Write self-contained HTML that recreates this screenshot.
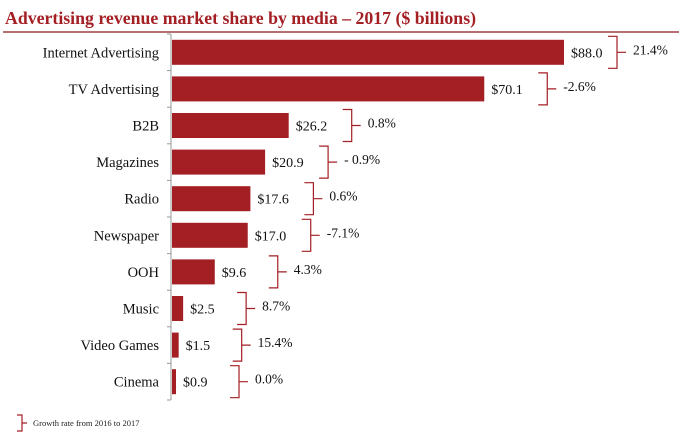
<!DOCTYPE html>
<html><head><meta charset="utf-8"><style>
body{margin:0;background:#fff;width:679px;height:437px;overflow:hidden}
svg text{font-family:"Liberation Serif",serif}
</style></head><body>
<svg width="679" height="437">
<text x="5" y="24" font-size="17.8" font-weight="bold" fill="#a31f24">Advertising revenue market share by media – 2017 ($ billions)</text>
<line x1="3" y1="32" x2="679" y2="32" stroke="#8b1a1e" stroke-width="1.2"/>
<g id="plot"></g>
<path d="M17,415 h5 v16 h-5 M22,423 h5" fill="none" stroke="#a31f24" stroke-width="1.2"/>
<text x="33" y="426" font-size="8.5" fill="#222">Growth rate from 2016 to 2017</text>
</svg>
<script>
const categories=["Internet Advertising","TV Advertising","B2B","Magazines","Radio","Newspaper","OOH","Music","Video Games","Cinema"];
const values=[88.0,70.1,26.2,20.9,17.6,17.0,9.6,2.5,1.5,0.9];
const valueLabels=["$88.0","$70.1","$26.2","$20.9","$17.6","$17.0","$9.6","$2.5","$1.5","$0.9"];
const growth=["21.4%","-2.6%","0.8%","- 0.9%","0.6%","-7.1%","4.3%","8.7%","15.4%","0.0%"];
const NS="http://www.w3.org/2000/svg";
const plotG=document.getElementById('plot');
const x0=172, scale=392/88, plotTop=34, step=36.6, bh=25;
const xs=v=>x0+v*scale;
const yc=i=>plotTop+step*(i+0.5);
function mk(t,a){const e=document.createElementNS(NS,t);for(const k in a)e.setAttribute(k,a[k]);plotG.appendChild(e);return e;}
const ax=mk('line',{x1:x0-1,y1:plotTop,x2:x0-1,y2:plotTop+step*categories.length,stroke:'#999','stroke-width':1});


for(let i=0;i<=categories.length;i++){
 const t=mk('line',{x1:x0-5,y1:plotTop+step*i,x2:x0-1,y2:plotTop+step*i,stroke:'#999'});
 
 
}
categories.forEach((c,i)=>{
 const y=yc(i), xe=xs(values[i]);
 const l=mk('text',{x:159,y:y+5,'font-size':14.5,'text-anchor':'end',fill:'#111'});l.textContent=c;
 
 
 const b=mk('rect',{x:x0,y:y-bh/2,width:xe-x0,height:bh,fill:'#a31f24'});
 
 
 const v=mk('text',{x:xe+7,y:y+5,'font-size':14,fill:'#111'});v.textContent=valueLabels[i];
 
 
 const bx=xe+(i===0?44:54);
 const br=mk('path',{d:`M${bx},${y-16} h9 v32 h-9 M${bx+9},${y} h9`,fill:'none',stroke:'#a31f24','stroke-width':1.2});
 
 
 const gt=mk('text',{x:bx+25,y:y+2,'font-size':13.5,fill:'#111'});gt.textContent=growth[i];
 
 
});
</script>
</body></html>
